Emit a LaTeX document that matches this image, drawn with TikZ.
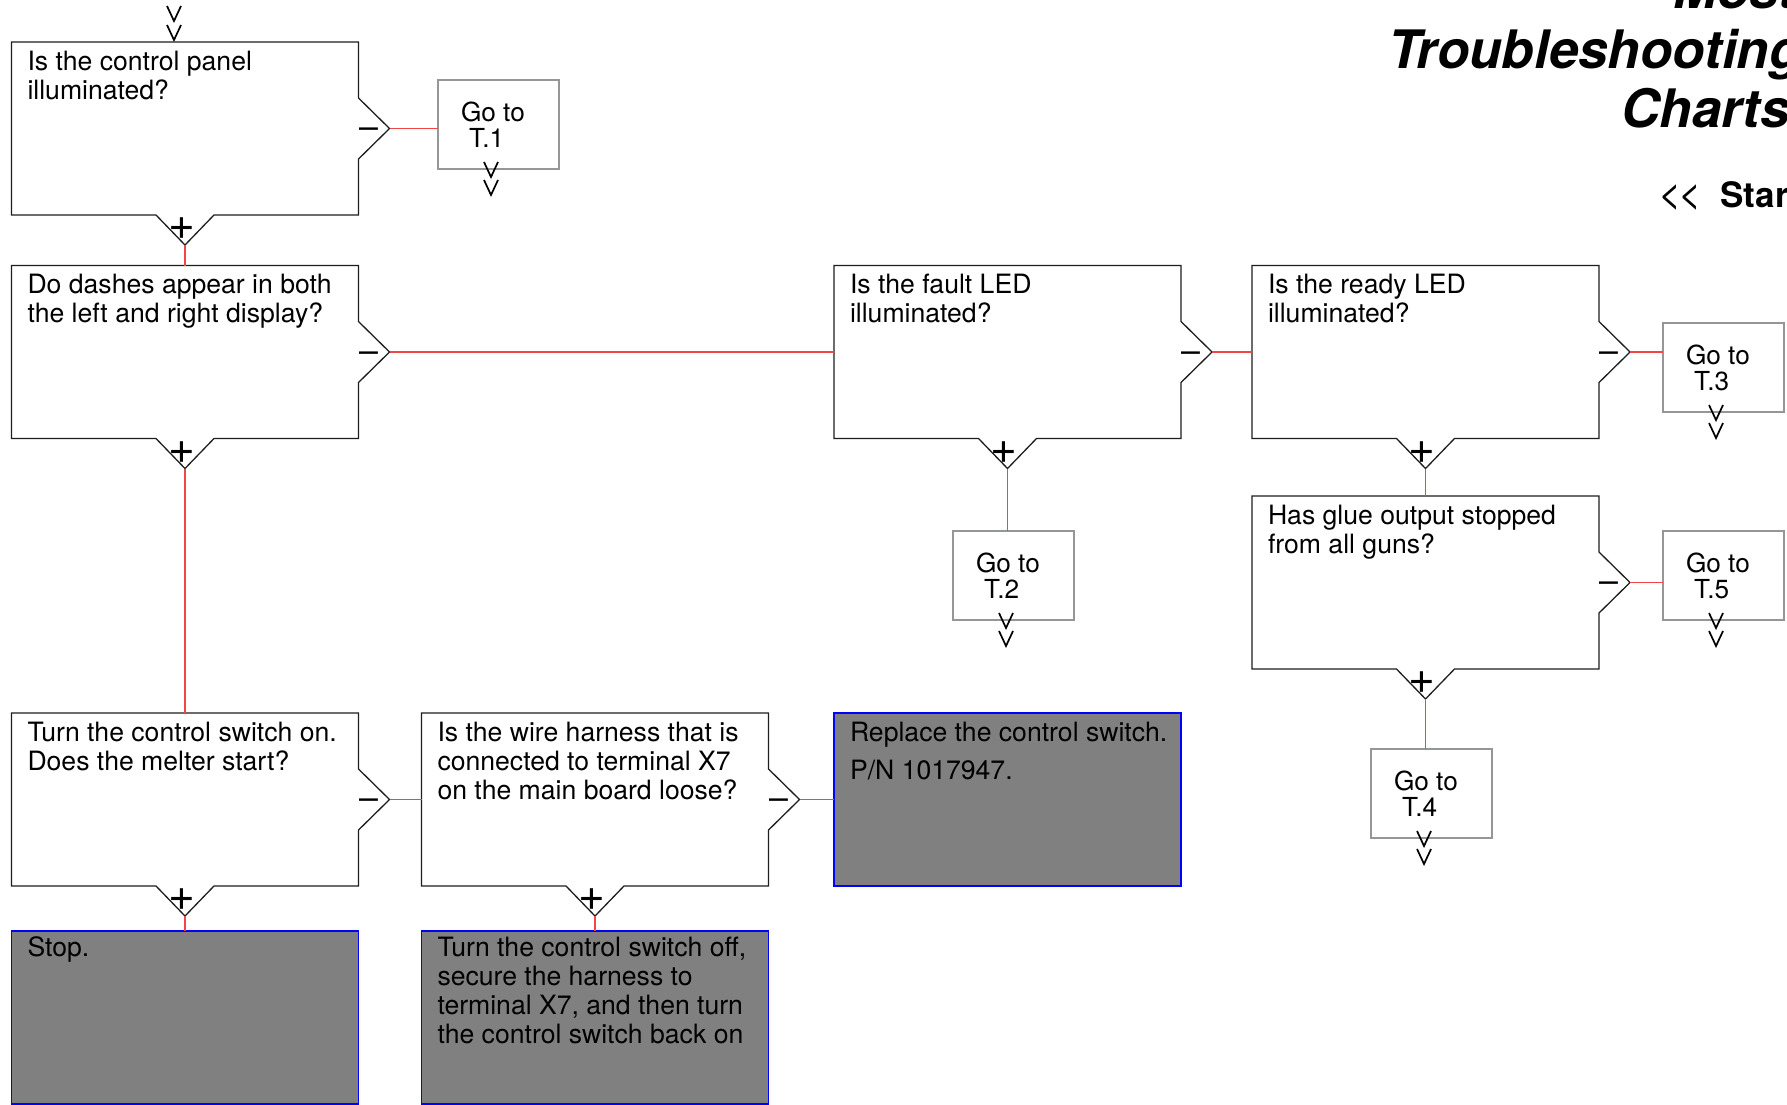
\documentclass[tikz,border=0pt]{standalone}
\usepackage{fontspec}
\setmainfont{TeX Gyre Heros}
\usetikzlibrary{calc}
\definecolor{connc}{RGB}{240,70,70}
\definecolor{gobd}{RGB}{150,150,150}
\definecolor{actfill}{RGB}{128,128,128}
\definecolor{outc}{RGB}{30,30,30}

\tikzset{
  dbox/.style={rectangle, inner sep=0pt, outer sep=0pt, minimum width=173.5pt, minimum height=86.5pt},
  outl/.style={draw=outc, line width=0.65pt, line join=miter},
  dtext/.style={anchor=north west, inner sep=0pt, outer sep=0pt, align=left, font=\fontsize{13.3pt}{14.6pt}\selectfont},
  gobox/.style={rectangle, draw=gobd, line width=0.65pt, fill=white, inner sep=0pt, outer sep=0pt, minimum width=60.5pt, minimum height=44.5pt},
  gotext/.style={anchor=north west, inner sep=0pt, outer sep=0pt, align=left, font=\fontsize{13.1pt}{13pt}\selectfont},
  actbox/.style={rectangle, draw=blue, fill=actfill, line width=0.65pt, inner sep=0pt, outer sep=0pt, minimum width=173.5pt, minimum height=86.5pt},
  conn/.style={draw=connc, line width=0.65pt},
  minussign/.style={anchor=base, inner sep=0pt, font=\fontsize{17pt}{17pt}\selectfont},
  plussign/.style={anchor=center, inner sep=0pt, font=\fontsize{23pt}{23pt}\selectfont},
  chev/.style={draw=black, line width=0.85pt, line join=miter},
  ttl/.style={anchor=base west, inner sep=0pt, font=\fontsize{26.5pt}{30pt}\selectfont\bfseries\itshape},
}

% decision box: name, left, top, text
\newcommand\DecBox[4]{%
  \node[dbox] (#1) at (#2+173.5,#3+86.5) {};
  \coordinate (#1-r) at ([shift={(31,0)}]#1.east);
  \coordinate (#1-b) at ([shift={(0,30)}]#1.south);
  \draw[outl] (#1.north west) -- (#1.north east) -- ([shift={(0,-30.5)}]#1.east) -- (#1-r)
     -- ([shift={(0,30.5)}]#1.east) -- (#1.south east) -- ([shift={(29,0)}]#1.south) -- (#1-b)
     -- ([shift={(-29,0)}]#1.south) -- (#1.south west) -- cycle;
  \node[dtext] (#1-t) at ([shift={(16,7)}]#1.north west) {\rule{0pt}{10.5pt}#4};
  \node[minussign] (#1-m) at ([shift={(-21,10)}]#1-r) {–};
  \node[plussign] (#1-p) at ([shift={(-3.5,-16)}]#1-b) {+};
}
% go box: name, left, top, number
\newcommand\GoBox[4]{%
  \node[gobox] (#1) at (#2+60.5,#3+44.5) {};
  \node[gotext] (#1-t) at (#2+23,#3+20) {\rule{0pt}{10.5pt}Go to\\\hspace*{4pt}T.#4};
  \draw[chev] (#2+46,#3+82) -- (#2+53,#3+97) -- (#2+60,#3+82);
  \draw[chev] (#2+46,#3+100) -- (#2+53,#3+115) -- (#2+60,#3+100);
}
% action box: name, left, top, text, text offset
\newcommand\ActBox[5]{%
  \node[actbox] (#1) at (#2+173.5,#3+86.5) {};
  \node[dtext] (#1-t) at ([shift={(16,#5)}]#1.north west) {\rule{0pt}{10.5pt}#4};
}

\begin{document}
\begin{tikzpicture}[x=0.5pt,y=-0.5pt]
\useasboundingbox (0,0) rectangle (1787,1104);
\clip (0,0) rectangle (1787,1104);
\fill[white] (0,0) rectangle (1787,1104);

% title
\node[ttl] (tmost) at (1673,8) {Most};
\node[ttl] (ttrou) at (1388,68) {Troubleshooting};
\node[ttl] (tchar) at (1621,127) {Charts};
\node[anchor=base west, inner sep=0pt, font=\fontsize{20pt}{20pt}\selectfont] (tlt) at (1658,207) {<{}\kern-1.5pt<};
\node[anchor=base west, inner sep=0pt, font=\fontsize{17.5pt}{20pt}\selectfont\bfseries] (tstart) at (1720,207) {Start};

% entry chevrons
\draw[chev] (167,6) -- (174,21) -- (181,6);
\draw[chev] (167,25) -- (174,40) -- (181,25);

% boxes
\DecBox{q1}{11.5}{42}{Is the control panel\\illuminated?}
\DecBox{q2}{11.5}{265.5}{Do dashes appear in both\\the left and right display?}
\DecBox{q3}{834}{265.5}{Is the fault LED\\illuminated?}
\DecBox{q4}{1252}{265.5}{Is the ready LED\\illuminated?}
\DecBox{q5}{1252}{496}{Has glue output stopped\\from all guns?}
\DecBox{q6}{11.5}{713}{Turn the control switch on.\\Does the melter start?}
\DecBox{q7}{421.5}{713}{Is the wire harness that is\\connected to terminal X7\\on the main board loose?}

\ActBox{a1}{834}{713}{Replace the control switch.\\[4.8pt]P/N 1017947.}{7}
\ActBox{a2}{11.5}{931}{Stop.}{4}
\ActBox{a3}{421.5}{931}{Turn the control switch off,\\secure the harness to\\terminal X7, and then turn\\the control switch back on}{4}

\GoBox{g1}{438}{80}{1}
\GoBox{g2}{953}{531}{2}
\GoBox{g3}{1663}{323}{3}
\GoBox{g5}{1663}{531}{5}
\GoBox{g4}{1371}{749}{4}

% connectors
\draw[conn] (q1-r) -- (q1-r -| g1.west);
\draw[conn] (q1-b) -- (q2.north);
\draw[conn] (q2-r) -- (q3.west);
\draw[conn] (q2-b) -- (q6.north);
\draw[conn] (q3-r) -- (q4.west);
\draw[conn] (q3-b) -- (q3-b |- g2.north);
\draw[conn] (q4-r) -- (q4-r -| g3.west);
\draw[conn] (q4-b) -- (q5.north);
\draw[conn] (q5-r) -- (q5-r -| g5.west);
\draw[conn] (q5-b) -- (q5-b |- g4.north);
\draw[conn] (q6-r) -- (q7.west);
\draw[conn] (q6-b) -- (a2.north);
\draw[conn] (q7-r) -- (a1.west);
\draw[conn] (q7-b) -- (a3.north);
\end{tikzpicture}
\end{document}
